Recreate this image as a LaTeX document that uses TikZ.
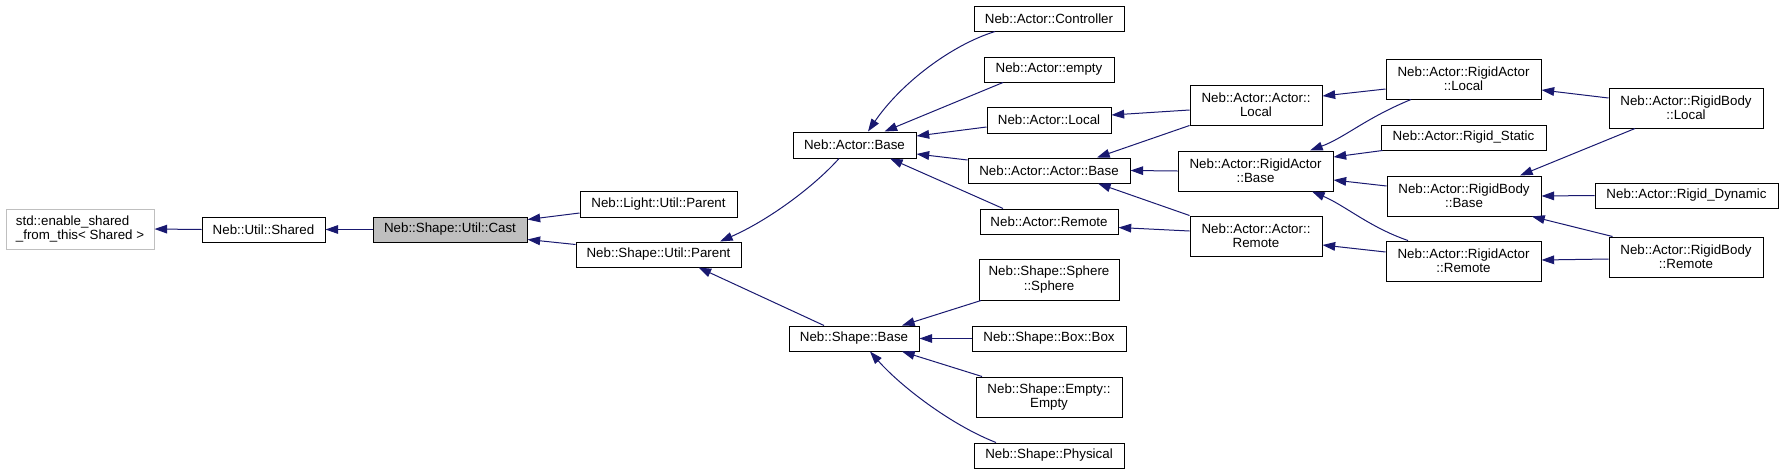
\documentclass[tikz,border=0pt]{standalone}
\usepackage{fontspec}
\setmainfont{Liberation Sans}
\usetikzlibrary{arrows.meta,calc}
\definecolor{edgeblue}{HTML}{191970}
\definecolor{nodegrey}{HTML}{BFBFBF}
\tikzset{
  box/.style={draw=black, line width=0.75pt, fill=white, inner sep=0pt, align=center,
    font=\fontsize{10}{10.75}\selectfont, text=black},
  edge/.style={draw=edgeblue, line width=0.75pt, -{Triangle[length=9.5pt,width=6.5pt]}},
}
\newcommand\mkbox[7][]{%
  \pgfmathsetmacro\bxw{(#5-#3)*0.75}%
  \pgfmathsetmacro\bxh{(#6-#4)*0.75}%
  \pgfmathsetmacro\bxx{(#3+#5)/2}%
  \pgfmathsetmacro\bxy{(#4+#6)/2}%
  \node[box,minimum width=\bxw pt,minimum height=\bxh pt,#1] (#2) at (\bxx,\bxy) {#7};}
\begin{document}
\begin{tikzpicture}[x=0.75pt,y=-0.75pt]
\useasboundingbox (0,0) rectangle (1784,475);
\mkbox[draw=nodegrey,align=left]{std}{6}{209}{154}{249}{std::enable\_shared\\\_from\_this< Shared >}
\mkbox{shared}{202}{217}{325}{242}{Neb::Util::Shared}
\mkbox[fill=nodegrey]{cast}{373}{217}{527}{242}{Neb::Shape::Util::Cast}
\mkbox{lp}{580}{191}{737}{217}{Neb::Light::Util::Parent}
\mkbox{sp}{576}{242}{741}{267}{Neb::Shape::Util::Parent}
\mkbox{ab}{793}{132}{916}{158}{Neb::Actor::Base}
\mkbox{sb}{789}{326}{919}{351}{Neb::Shape::Base}
\mkbox{ctrl}{974}{6}{1124}{31}{Neb::Actor::Controller}
\mkbox{emptya}{984}{57}{1114}{82}{Neb::Actor::empty}
\mkbox{al}{987}{107}{1111}{133}{Neb::Actor::Local}
\mkbox{aab}{968}{158}{1130}{183}{Neb::Actor::Actor::Base}
\mkbox{ar}{980}{209}{1118}{234}{Neb::Actor::Remote}
\mkbox{sph}{979}{259}{1119}{300}{Neb::Shape::Sphere\\::Sphere}
\mkbox{boxb}{972}{326}{1126}{351}{Neb::Shape::Box::Box}
\mkbox{emp}{976}{377}{1122}{417}{Neb::Shape::Empty::\\Empty}
\mkbox{phys}{974}{443}{1124}{468}{Neb::Shape::Physical}
\mkbox{aal}{1190}{85}{1322}{125}{Neb::Actor::Actor::\\Local}
\mkbox{rab}{1178}{151}{1333}{191}{Neb::Actor::RigidActor\\::Base}
\mkbox{aar}{1190}{216}{1322}{256}{Neb::Actor::Actor::\\Remote}
\mkbox{ral}{1386}{59}{1541}{99}{Neb::Actor::RigidActor\\::Local}
\mkbox{rs}{1381}{125}{1546}{150}{Neb::Actor::Rigid\_Static}
\mkbox{rbb}{1387}{176}{1541}{216}{Neb::Actor::RigidBody\\::Base}
\mkbox{rar}{1386}{241}{1541}{281}{Neb::Actor::RigidActor\\::Remote}
\mkbox{rbl}{1609}{88}{1763}{128}{Neb::Actor::RigidBody\\::Local}
\mkbox{rd}{1595}{183}{1778}{208}{Neb::Actor::Rigid\_Dynamic}
\mkbox{rbr}{1609}{237}{1763}{277}{Neb::Actor::RigidBody\\::Remote}

% edges (child -> parent)
\draw[edge] (shared.west) -- (std.east);
\draw[edge] (cast.west) -- (shared.east);
\draw[edge] ($(lp.west)+(0,9)$) -- ($(cast.east)+(0,-10)$);
\draw[edge] ($(sp.west)+(0,-10)$) -- ($(cast.east)+(0,10)$);
\draw[edge] ($(ab.south)+(-15.5,0)$) .. controls +(-24,27) and +(50,-22) .. ($(sp.north)+(61.5,0)$);
\draw[edge] ($(sb.north)+(-30,0)$) -- ($(sp.south)+(40,0)$);
\draw[edge] ($(ctrl.south)+(-54,0)$) .. controls +(-45,14) and +(32,-47) .. ($(ab.north)+(13.5,0)$);
\draw[edge] ($(emptya.south)+(-46,0)$) -- ($(ab.north)+(30,0)$);
\draw[edge] ($(al.west)+(0,7)$) -- ($(ab.east)+(0,-9)$);
\draw[edge] ($(aab.west)+(0,-10.5)$) -- ($(ab.east)+(0,9)$);
\draw[edge] ($(ar.north)+(-46,0)$) -- ($(ab.south)+(35.5,0)$);
\draw[edge] ($(sph.south)+(-68,0)$) -- ($(sb.north)+(48,0)$);
\draw[edge] (boxb.west) -- (sb.east);
\draw[edge] ($(emp.north)+(-67,0)$) -- ($(sb.south)+(48,0)$);
\draw[edge] ($(phys.north)+(-53,0)$) .. controls +(-46,-18) and +(30,34) .. ($(sb.south)+(16,0)$);
\draw[edge] ($(aal.west)+(0,5)$) -- ($(al.east)+(0,-5)$);
\draw[edge] (aal.south west) -- ($(aab.north)+(48,0)$);
\draw[edge] (rab.west) -- (aab.east);
\draw[edge] (aar.north west) -- ($(aab.south)+(49,0)$);
\draw[edge] ($(aar.west)+(0,-5)$) -- ($(ar.east)+(0,6)$);
\draw[edge] ($(ral.west)+(0,10)$) -- ($(aal.east)+(0,-9)$);
\draw[edge] ($(ral.south)+(-52.5,0)$) .. controls +(-46,19) and +(35,-13) .. ($(rab.north)+(54.5,0)$);
\draw[edge] ($(rs.south west)+(2,0)$) -- ($(rab.east)+(0,-14)$);
\draw[edge] ($(rbb.west)+(0,-10)$) -- ($(rab.east)+(0,9)$);
\draw[edge] ($(rar.north)+(-55.5,0)$) .. controls +(-38,-13) and +(33,14) .. ($(rab.south)+(56.5,0)$);
\draw[edge] ($(rar.west)+(0,-9)$) -- ($(aar.east)+(0,9)$);
\draw[edge] ($(rbl.west)+(0,-10)$) -- ($(ral.east)+(0,11)$);
\draw[edge] ($(rbl.south)+(-51,0)$) -- ($(rbb.north)+(56,0)$);
\draw[edge] (rd.west) -- (rbb.east);
\draw[edge] ($(rbr.north west)+(4,0)$) -- ($(rbb.south)+(68,0)$);
\draw[edge] ($(rbr.west)+(0,2)$) -- ($(rar.east)+(0,-1)$);
\end{tikzpicture}
\end{document}
